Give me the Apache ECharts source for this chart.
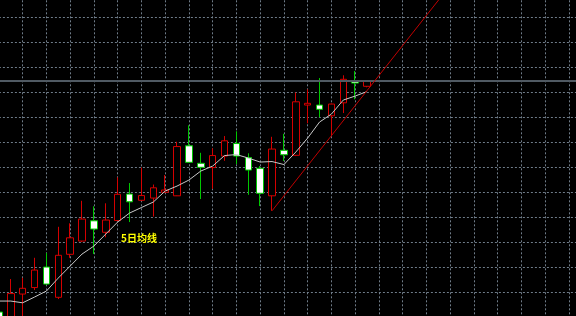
<!DOCTYPE html>
<html>
<head>
<meta charset="utf-8">
<script src="https://cdn.jsdelivr.net/npm/echarts@6/dist/echarts.min.js"></script>
<style>
  html, body { margin: 0; padding: 0; background: #000; }
  #chart { width: 576px; height: 316px; }
</style>
</head>
<body>
<div id="chart"></div>
<script>
// Daily bars: open, close, low, high
const opens  = [40.21, 39.81, 40.93, 41.19, 42.01, 40.80, 42.52, 43.05, 43.86, 43.40,
                43.87, 44.93, 44.68, 44.77, 45.00, 44.86, 46.86, 46.16, 45.99, 46.45,
                46.95, 46.39, 45.96, 44.86, 46.68, 46.48, 48.49, 48.49, 48.06, 48.58,
                49.46, 49.24];
const closes = [39.89, 40.95, 41.16, 41.89, 41.33, 42.48, 43.18, 43.93, 43.53, 43.89,
                44.92, 44.62, 44.87, 45.18, 45.09, 46.83, 46.20, 46.00, 46.47, 47.06,
                46.45, 45.89, 44.96, 46.73, 46.50, 48.62, 48.56, 48.32, 48.53, 49.52,
                49.37, 49.46];
const lows   = [39.69, 39.49, 39.97, 41.09, 41.29, 40.73, 42.38, 43.01, 42.53, 43.20,
                43.85, 43.81, 44.65, 44.03, 44.99, 44.85, 46.17, 44.73, 45.14, 46.26,
                46.13, 44.90, 44.45, 44.26, 46.25, 46.45, 47.76, 48.00, 47.25, 48.17,
                48.72, 49.20];
const highs  = [40.25, 41.53, 41.58, 42.38, 42.57, 43.62, 43.76, 44.66, 44.44, 44.56,
                45.60, 45.37, 45.99, 45.31, 45.69, 47.02, 47.68, 46.58, 46.76, 47.25,
                47.44, 46.56, 46.05, 47.22, 47.34, 48.99, 49.12, 49.57, 48.55, 49.68,
                49.85, 49.47];
// 5-day moving average
const ma5    = [40.65, 40.65, 40.58, 40.81, 41.05, 41.57, 42.05, 42.53, 42.85, 43.33,
                43.81, 44.17, 44.39, 44.61, 45.05, 45.25, 45.49, 45.85, 46.05, 46.47,
                46.51, 46.37, 46.21, 46.23, 46.11, 46.61, 47.17, 47.81, 48.13, 48.69,
                48.85, 49.03];
// Support trend line from the bar-23 low through the bar-28 low
const trendLine = [[23, 44.26], [40, 54.48]];
// Current price line
const lastPrice = 49.46;
// Bar slots on the time axis (empty space left on the right)
const slotCount = 50;
const days = Array.from({ length: slotCount }, (_, i) => 'D' + (i + 1));

const bars = opens.map((o, i) => [o, closes[i], lows[i], highs[i]]);

const chart = echarts.init(document.getElementById('chart'), null, { renderer: 'canvas' });

const gridLine = { show: true, lineStyle: { color: '#6f7c89', width: 1, type: [2, 2] } };

chart.setOption({
  backgroundColor: '#000000',
  animation: false,
  grid: {
    left: -1.1, right: -4.8, top: -7.7, bottom: -1.3,
    containLabel: false,
    outerBoundsMode: 'none'
  },
  xAxis: {
    type: 'category',
    data: days,
    boundaryGap: false,
    axisLine: { show: false },
    axisTick: { show: false },
    axisLabel: { show: false },
    splitLine: Object.assign({ interval: 1 }, gridLine)
  },
  yAxis: {
    type: 'value',
    min: 40,
    max: 53,
    interval: 1,
    axisLine: { show: false },
    axisTick: { show: false },
    axisLabel: { show: false },
    splitLine: gridLine
  },
  series: [
    {
      type: 'candlestick',
      data: bars,
      barWidth: 7,
      clip: true,
      itemStyle: {
        color: '#000000',
        borderColor: '#d40000',
        color0: '#ffffff',
        borderColor0: '#00c800',
        borderWidth: 1
      },
      markLine: {
        symbol: 'none',
        silent: true,
        label: { show: false },
        emphasis: { disabled: true },
        lineStyle: { color: '#505a63', width: 2, type: 'solid' },
        data: [{ yAxis: lastPrice }]
      },
      z: 3
    },
    {
      type: 'line',
      data: ma5,
      symbol: 'none',
      smooth: false,
      lineStyle: { color: '#c8c8c8', width: 1 },
      z: 4
    },
    {
      type: 'line',
      data: trendLine,
      symbol: 'none',
      clip: true,
      lineStyle: { color: '#c00000', width: 1 },
      z: 5
    }
  ],
  graphic: [
    {
      type: 'text',
      left: 121,
      top: 233,
      style: {
        text: '5日均线',
        fill: '#ffff00',
        font: 'bold 10px "Noto Sans CJK SC", sans-serif'
      },
      z: 10
    }
  ]
});
</script>
</body>
</html>
